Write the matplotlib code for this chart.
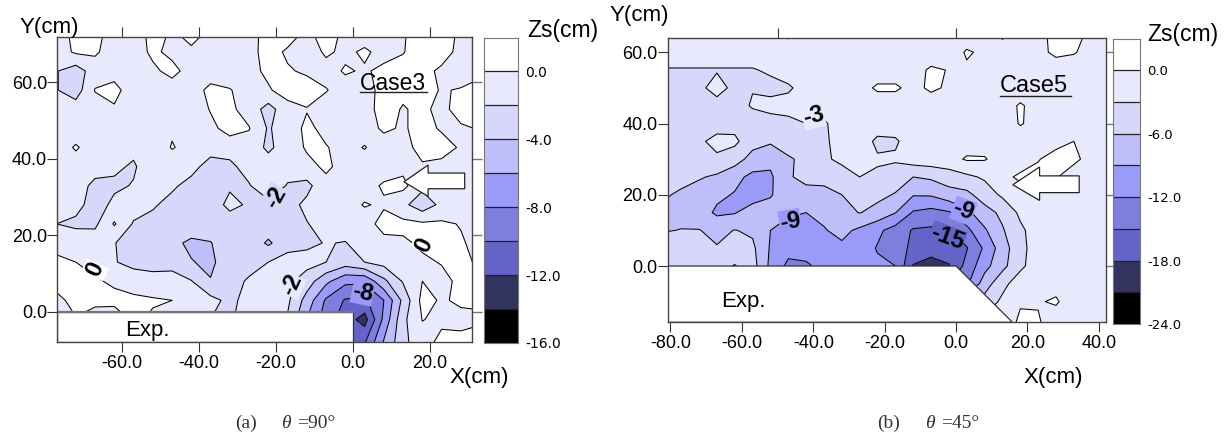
import matplotlib
matplotlib.use("Agg")
import matplotlib.pyplot as plt
import numpy as np
from matplotlib.patches import Polygon

plt.rcParams['font.family'] = ['Liberation Sans', 'DejaVu Sans']

W, H = 1228, 443

shades = ['#000000', '#33335f', '#6464c8', '#7e7edf', '#9a9af8',
          '#bebefb', '#d7d7fb', '#e9e9fd', '#ffffff']

# Case3, theta = 90
x_a = [-77, -72, -67, -62, -57, -52, -47, -42, -37, -32, -27, -22, -17, -12, -7, -2, 3, 8, 13, 18, 23, 28, 33]
y_a = [73, 68, 63, 58, 53, 48, 43, 38, 33, 28, 23, 18, 13, 8, 3, -2, -8]
z_a = [
    [-1, .6, .6, -.8, -1, .6, -.2, .6, -.3, -1, -1, 1, 1, -.4, .8, -.4, -1, -1, -.2, 1, 1, -.4, -.6],
    [-1, .3, .3, -1, -1, .4, -.5, -.3, -1, -1, -.7, .8, -.3, -1, .3, -.4, .3, -.6, -.1, 1, .7, -.5, -.4],
    [-1.9, -3, -1, -1, -1, -.4, .6, -.8, -1, -1, -.6, .4, .2, -.3, -.7, .2, -.2, .4, .7, .5, -.3, -.7, -.6],
    [-1.9, -3, .1, .8, -1.4, -1.8, -1, -.9, .5, .1, -.8, -.2, .8, .9, .1, -.8, -.6, .5, .3, .5, -.1, .1, .9],
    [-1.1, -1, -.9, -.3, -1, -1, -1, -1, .1, .4, -.8, -2.8, -.7, -.1, -.8, -.9, -.5, .5, -.1, .3, -.4, .6, .8],
    [-1, -1, -1, -1, -.2, -1, -.2, -1, -.4, .6, .1, -2.2, -1, .4, -.5, -.9, -.8, .3, -.2, .6, -.2, -.2, .1],
    [-1, .2, -.9, -1.2, -1.6, -1, .1, -.5, -1, -.9, -.8, -2.4, -1, .2, .1, -.6, .1, -.9, -.6, .6, .7, -.2, -.5],
    [-.3, -.9, -1, -1.7, -2.2, -1, -.9, -1.2, -3, -2.6, -.9, -1, -.9, -.5, .3, -.6, -.9, -.8, -.5, -.2, -.5, -.7, -.7],
    [-1, -.9, -2.6, -2.3, -1.9, -1, -1.6, -2.8, -2.8, -2.2, -2.2, 0, -2.2, -2.6, -.5, -.5, -.6, .2, .5, -1.5, -.5, -.8, -.7],
    [-1, -1.4, -2.8, -1.6, -1, -1.7, -2.8, -2.8, -2.8, -1.6, -2.2, -2.8, -2.8, -1.5, -.9, -.6, .1, -.2, -1.5, -3.2, -1.5, 0, -.5],
    [-2, -2.4, -2.4, .2, -2.2, -2.8, -2.8, -2.8, -2.8, -2.8, -2.8, -2.8, -2.6, -2.1, -1.2, -.9, -.7, .6, .5, .3, .3, -.1, -.8],
    [-.8, -.8, -.9, -1.9, -3.1, -2.8, -3.5, -4.4, -4.1, -2.7, -2.8, -4.3, -2.8, -2.4, -1.9, -2.1, -.9, -.5, -.3, .3, .6, .2, -.6],
    [.5, 0, -.8, -1.9, -2.5, -2.8, -2.6, -3.9, -4.4, -2.9, -2.6, -2, -1.2, -1.3, -2, -3, -2, -1.3, -.6, -.3, .1, .6, -.4],
    [.7, .6, .3, -.4, -1.1, -1.2, -1.3, -1.9, -3.9, -2.6, -1.8, -1, -1.5, -3, -5.5, -7.5, -7.6, -4.5, -1.8, 0, -.5, .4, .5],
    [-.5, .6, .8, .7, .5, .2, 0, -.5, -1.4, -2.5, -1.3, -.7, -1.6, -4.8, -8.3, -10.2, -10.4, -8, -3.5, .6, -.2, .3, .1],
    [-1.5, -.1, -1.5, -1.5, .4, -.3, -.5, -.5, -2, -2.8, .8, -.9, -2.2, -6, -9, -11, -12.8, -7.5, -2.5, .05, -.3, -.5, -.1],
    [-1, -1, -1, -1, -1, -1, -1, -1, -1, -1, -1, -1, -2, -6, -9, -11, -10.2, -5.8, -2.6, -.6, .4, .5, .3],
]
levels_a = [-16, -14, -12, -10, -8, -6, -4, -2, 0, 2]
ticks_a = [0, -4, -8, -12, -16]

# Case5, theta = 45
x_b = [-82, -77, -72, -67, -62, -57, -52, -47, -42, -37, -32, -27, -22, -17, -12, -7, -2, 3, 8, 13, 18, 23, 28, 33, 38, 43]
y_b = [65, 60, 55, 50, 45, 40, 35, 30, 25, 20, 15, 10, 5, 0, -5, -10, -16]
z_b = [
    [-1.5, -1.5, -1.5, -1.5, -1.5, -1.5, -1.5, -3.5, -1.5, -1.5, -1.5, -1.5, -1.5, -1.5, -1.5, -1.5, -1.5, -1.5, -1.5, .5, -1, -.8, .8, .8, -.6, -1.5],
    [-1.5, -1.5, -1.5, -1.5, -1.5, -1.5, -1.5, -1.5, -1.5, -1.5, -1.5, -1.5, -1.5, -1.2, -1.5, -1.5, -1.5, .3, -.5, -1.3, -1.5, -.8, .6, .2, -1, -1.5],
    [-3.2, -3.2, -3.2, -3.2, -3.2, -3.2, -2.6, -1.6, -1.5, -1.5, -1.5, -1.5, -1.4, -1.4, -1, .4, -.1, -.4, -1, -1.5, -1.5, -1.5, -1.5, -1.5, -1.5, -.7],
    [-4, -4, -3.6, -2, -3.7, -3.1, -3.8, -3.4, -1.9, -1.5, -1.5, -1, .4, .4, -.8, .5, -.4, -1.2, -1.5, -1.5, -1.5, -1.5, -1.5, -1.5, -1.3, .1],
    [-4, -4, -4, -4, -3.8, -2.8, -2.2, -2, -1.6, -1.6, -1.5, -1.5, -1.5, -1.5, -1.5, -1.5, -1.5, -1.5, -1.5, -1.2, .3, -1, -1.5, -1.5, -1.5, -1.5],
    [-4, -4, -4, -4, -4, -4, -4, -3.7, -3, -3.4, -1.5, -1.5, -1.5, -1.5, -1.5, -1.5, -1.5, -1.5, -1.5, -1.4, .2, -.9, -1.5, -1.5, -1.5, -1.5],
    [-4, -4, -3.4, -2.3, -2.4, -4.8, -5.6, -4.4, -4.2, -3.6, -1.6, -1.5, -3.6, -3.4, -1.5, -1.5, -1.5, -1.3, -1.2, -1.3, -1.5, -1.5, -.6, 0, -1.3, -1.5],
    [-4.2, -4.2, -4, -3.4, -4.6, -7.2, -8.2, -6.4, -5.2, -3.6, -2.2, -1.6, -2.7, -2.6, -1.5, -1.2, -1, .3, .2, -1.2, -1.2, -.1, .7, .6, -1, -1.5],
    [-4.7, -5, -5.7, -6.5, -8.2, -9.7, -9.5, -6.3, -5.2, -5, -4.6, -3, -3.4, -4.6, -6, -5.5, -4.5, -3.6, -2.6, -.6, .4, .5, .2, -1.4, -1.5, -1.5],
    [-5.6, -6.5, -7.4, -8.4, -9.2, -10.5, -9.3, -7, -7, -7, -6, -5, -5.3, -6.2, -8.8, -8.7, -7.2, -6.8, -4.5, -2.5, -1, -1, -1.4, -1.5, -.9, -1.5],
    [-6.6, -7, -7.6, -9.5, -9.2, -7.5, -7.5, -8.5, -9, -8.3, -6.9, -5.9, -6.9, -8.9, -12.3, -13, -12.3, -9.7, -7.2, -5.3, -2.4, -1.5, -1.5, -1.5, -1.5, -1.5],
    [-6.2, -5.9, -5.9, -6.8, -5.9, -6.5, -9, -10.3, -10.3, -9.2, -8.2, -9.6, -11.4, -13.2, -15.3, -15.5, -15.2, -12.8, -9.4, -6.3, -3.6, -1.5, -1.5, -1.5, -1.5, -1.5],
    [-4.2, -4.8, -5.7, -5.8, -5.1, -5.4, -9.3, -11, -10.6, -10, -9.6, -10.6, -12.2, -13.6, -15.7, -17.5, -16.5, -15.2, -11.5, -7.4, -3.9, -1.5, -1.5, -1.5, -1.5, -1.5],
    [-4, -4.2, -4.3, -4.3, -2.8, -4.8, -9.7, -12.7, -12.5, -11, -10.6, -10.7, -11.5, -12, -18.2, -18.5, -18.2, -14, -10, -6.9, -3.6, -1.5, -1.5, -1.5, -1.5, -1.5],
    [-10, -10, -10, -10, -10, -10, -10, -10, -10, -10, -10, -10, -10, -10, -10, -10, -15, -12.6, -7.5, -3.8, -1.5, -1.5, -.8, -1.5, -1.5, -1.5],
    [-5, -5, -5, -5, -5, -5, -5, -5, -5, -5, -5, -5, -5, -5, -5, -5, -5, -5, -4.8, -2.4, -.3, -.2, .3, -1.4, -1.5, -1.5],
    [-2, -2, -2, -2, -2, -2, -2, -2, -2, -2, -2, -2, -2, -2, -2, -2, -2, -2, -2, -1.8, .6, .3, -1.4, -1.5, -1.5, -1.5],
]
levels_b = [-24, -21, -18, -15, -12, -9, -6, -3, 0, 3]
ticks_b = [0, -6, -12, -18, -24]


def axes_px(x0, y0, x1, y1):
    return fig.add_axes([x0 / W, 1 - y1 / H, (x1 - x0) / W, (y1 - y0) / H])


def label_px(px, py, s, **kw):
    kw.setdefault('ha', 'left')
    kw.setdefault('va', 'center')
    fig.text(px / W, 1 - py / H, s, **kw)


def draw_map(ax, x, y, z, levels, xlim, ylim, xticks, yticks, topticks, exp_poly, arrow):
    # rows are typed from the top of the picture down
    z = np.array(z, dtype=float)[::-1]
    y = np.array(y, dtype=float)[::-1]
    ax.contourf(x, y, z, levels=levels, colors=shades, zorder=1)
    ax.contour(x, y, z, levels=levels[:-1], colors='k', linewidths=0.75, linestyles='solid', zorder=2)
    ax.set_xlim(xlim)
    ax.set_ylim(ylim)
    ax.add_patch(Polygon(exp_poly, closed=True, fc='white', ec='#333333', lw=0.9, zorder=3))
    ax.add_patch(Polygon(arrow, closed=True, fc='white', ec='#222222', lw=0.9, zorder=4))
    ax.set_xticks(xticks)
    ax.set_xticklabels(['%.1f' % v for v in xticks])
    ax.set_yticks(yticks)
    ax.set_yticklabels(['%.1f' % v for v in yticks])
    ax.tick_params(axis='x', length=7.5, width=0.8, color='#333333', labelsize=13, pad=2)
    ax.tick_params(axis='y', length=7.5, width=0.8, color='#333333', labelsize=13, pad=0)
    # the outside ticks of the other two sides
    top = ax.secondary_xaxis('top')
    top.set_xticks(topticks)
    top.set_xticklabels([])
    top.tick_params(length=7.5, width=0.8, color='#333333')
    top.spines['top'].set_visible(False)
    right = ax.secondary_yaxis('right')
    right.set_yticks(yticks)
    right.set_yticklabels([])
    right.tick_params(length=7.5, width=1.0, color='#777777')
    right.spines['right'].set_visible(False)
    for side in ['top', 'right', 'bottom', 'left']:
        ax.spines[side].set_zorder(5)
        ax.spines[side].set_linewidth(1.0)
        ax.spines[side].set_color('#444444')


def draw_bar(ax, levels, ticks, size):
    # one colour band per contour interval, taken from the same levels
    edges = np.array(levels, dtype=float)
    for i in range(len(shades)):
        ax.axhspan(edges[i], edges[i + 1], color=shades[i], lw=0)
    for v in levels[1:-1]:
        ax.axhline(v, color='#222222', lw=0.9)
    ax.set_ylim(levels[0], levels[-1])
    ax.set_xticks([])
    ax.yaxis.tick_right()
    ax.set_yticks(ticks)
    ax.set_yticklabels(['%.1f' % v for v in ticks], family='DejaVu Sans', fontsize=size)
    ax.tick_params(axis='y', length=0, pad=5)
    for s in ax.spines.values():
        s.set_color('#777777')
        s.set_linewidth(0.8)


fig = plt.figure(figsize=(W / 100, H / 100), dpi=100)

ax_a = axes_px(57.3, 37, 472, 342)
draw_map(ax_a, x_a, y_a, z_a, levels_a, (-76.8, 30.9), (-7.9, 71.9),
         [-60, -40, -20, 0, 20], [0, 20, 40, 60], [-60, -40, -20, 0, 20],
         [(-76.8, 0), (0, 0), (0, -7.9), (-76.8, -7.9)],
         [(13.2, 34), (19.5, 38.4), (19.5, 36.3), (29, 36.3), (29, 32.2), (19.5, 32.2), (19.5, 30.2)])
ax_a.plot([-76.8, 0], [0, 0], color='#777777', lw=1.6, zorder=5)
ax_a.text(-53.5, -5, 'Exp.', fontsize=16, ha='center', va='center', zorder=6)

ax_b = axes_px(668, 38, 1105.6, 322.3)
draw_map(ax_b, x_b, y_b, z_b, levels_b, (-80.7, 41.9), (-15.8, 64),
         [-80, -60, -40, -20, 0, 20, 40], [0, 20, 40, 60], [-50, 0],
         [(-80.7, 0), (0, 0), (15.8, -15.8), (-80.7, -15.8)],
         [(15.9, 22.8), (23.4, 27.8), (23.4, 25.3), (34.5, 25.3), (34.5, 20.6), (23.4, 20.6), (23.4, 18.4)])
ax_b.text(-59.7, -10, 'Exp.', fontsize=16, ha='center', va='center', zorder=6)

# contour labels sit on a small ground of the band they break
for ax, items in [
    (ax_a, [(-20, 30, '-2', 60, '#d7d7fb'), (-67, 11, '0', 65, '#ffffff'), (18.5, 17.5, '0', 65, '#ffffff'),
            (-16, 7, '-2', 65, '#e9e9fd'), (2.5, 5, '-8', -12, '#9a9af8')]),
    (ax_b, [(-40, 42, '-3', 15, '#e9e9fd'), (-46.5, 12.5, '-9', 10, '#9a9af8'), (2, 15.5, '-9', -20, '#9a9af8'),
            (-2.5, 8, '-15', -20, '#6464c8')]),
]:
    for tx, ty, s, rot, bg in items:
        ax.text(tx, ty, s, fontsize=17, fontweight='bold', rotation=rot, ha='center', va='center', zorder=6,
                bbox=dict(fc=bg, ec='none', pad=0.3))

ax_c = axes_px(484, 37.5, 518, 343)
draw_bar(ax_c, levels_a, ticks_a, 10)
ax_d = axes_px(1113, 38.5, 1140, 324)
draw_bar(ax_d, levels_b, ticks_b, 9.5)

label_px(20, 28, 'Y(cm)', fontsize=16)
label_px(449, 378, 'X(cm)', fontsize=16)
label_px(527, 31, 'Zs(cm)', fontsize=16.5)
label_px(360, 83, 'Case3', fontsize=16.5)
fig.add_artist(plt.Line2D([360 / W, 427 / W], [1 - 91.5 / H, 1 - 91.5 / H], color='#222222', lw=1.0))

label_px(610, 15, 'Y(cm)', fontsize=16)
label_px(1024, 377, 'X(cm)', fontsize=16)
label_px(1147, 35, 'Zs(cm)', fontsize=16.5)
label_px(1000, 86, 'Case5', fontsize=17)
fig.add_artist(plt.Line2D([1000 / W, 1071 / W], [1 - 96 / H, 1 - 96 / H], color='#222222', lw=1.0))

cap = dict(family='Liberation Serif', fontsize=14, color='#333333')
label_px(235, 423, '(a)', **cap)
label_px(281, 423, '\u03b8', style='italic', **cap)
label_px(297, 423, '=90\u00b0', **cap)
label_px(877, 423, '(b)', **cap)
label_px(925, 423, '\u03b8', style='italic', **cap)
label_px(941, 423, '=45\u00b0', **cap)

fig.savefig('out.png', dpi=100)
